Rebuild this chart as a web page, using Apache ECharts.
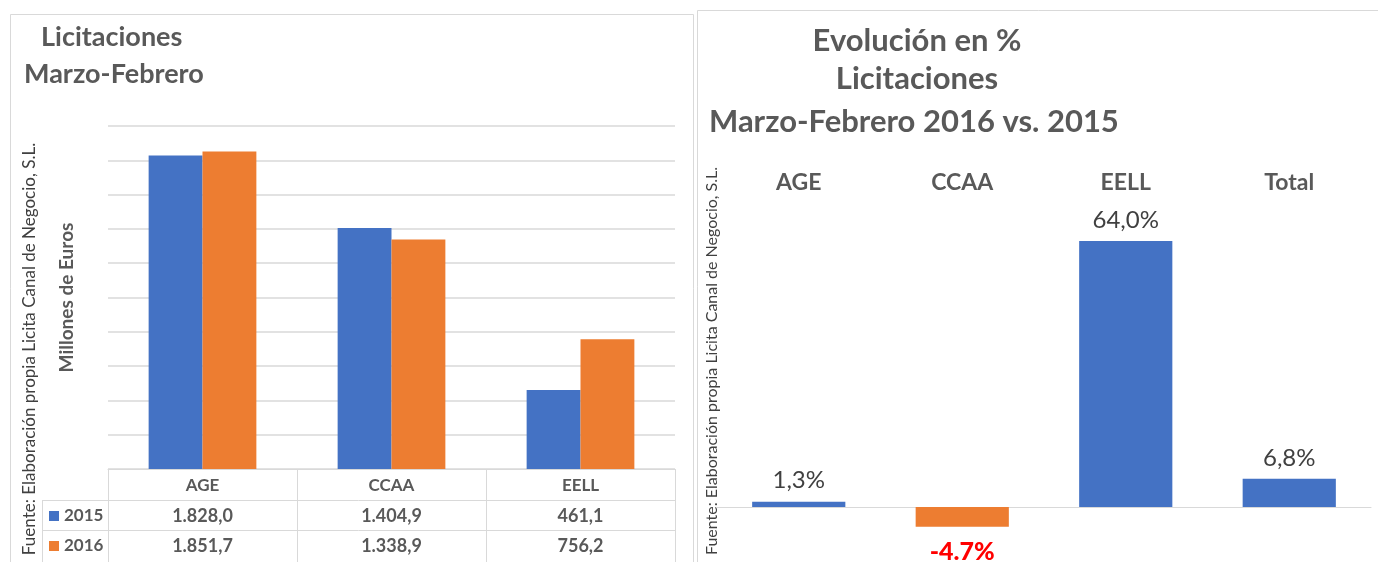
<!DOCTYPE html>
<html>
<head>
<meta charset="utf-8">
<script src="https://cdn.jsdelivr.net/npm/echarts@6/dist/echarts.min.js"></script>
<style>html,body{margin:0;padding:0;background:#fff}#c{width:1378px;height:562px}</style>
</head>
<body>
<div id="c"></div>
<script>
// ---- data ----
const categories = ['AGE', 'CCAA', 'EELL'];
const values2015 = [1828.0, 1404.9, 461.1];
const values2016 = [1851.7, 1338.9, 756.2];
const pctCategories = ['AGE', 'CCAA', 'EELL', 'Total'];
const pctValues = [1.3, -4.7, 64.0, 6.8];
const seriesNames = ['2015', '2016'];

const FONT = 'Lato, "Open Sans", sans-serif';
const GREY = '#595959';
const BLUE = '#4472C4';
const ORANGE = '#ED7D31';
const LINE = '#D9D9D9';

function esNum(v) {
  const parts = v.toFixed(1).split('.');
  const intPart = parts[0].replace(/\B(?=(\d{3})+(?!\d))/g, '.');
  return intPart + ',' + parts[1];
}

const chart = echarts.init(document.getElementById('c'));
const option = {
  backgroundColor: '#fff',
  animation: false,
  textStyle: { fontFamily: FONT },
  title: [
    { text: 'Licitaciones', left: 41, top: 24, padding: 0, textStyle: { fontFamily: FONT, fontSize: 27, fontWeight: 'bold', color: GREY } },
    { text: 'Marzo-Febrero', left: 24, top: 61, padding: 0, textStyle: { fontFamily: FONT, fontSize: 27, fontWeight: 'bold', color: GREY } },
    { text: 'Evolución en %', left: 917, textAlign: 'center', top: 25, padding: 0, textStyle: { fontFamily: FONT, fontSize: 31, fontWeight: 'bold', color: GREY } },
    { text: 'Licitaciones', left: 917, textAlign: 'center', top: 63, padding: 0, textStyle: { fontFamily: FONT, fontSize: 31, fontWeight: 'bold', color: GREY } },
    { text: 'Marzo-Febrero 2016 vs. 2015', left: 709, top: 106, padding: 0, textStyle: { fontFamily: FONT, fontSize: 31, fontWeight: 'bold', color: GREY } }
  ],
  legend: {
    data: seriesNames,
    orient: 'vertical',
    left: 49, top: 507,
    itemWidth: 10, itemHeight: 10, itemGap: 12,
    icon: 'rect',
    textStyle: { fontFamily: FONT, fontSize: 17, fontWeight: 'bold', color: GREY, lineHeight: 18 },
    padding: 0,
    selectedMode: false
  },
  grid: [
    { left: 108, right: 703, top: 126, bottom: 93 },
    { left: 717, right: 7, top: 241, bottom: 5 }
  ],
  xAxis: [
    {
      type: 'category', gridIndex: 0, data: categories,
      axisLine: { show: true, lineStyle: { color: LINE } },
      axisTick: { show: true, length: 93, lineStyle: { color: LINE } },
      axisLabel: {
        margin: 1, interval: 0,
        formatter: function (v, i) {
          return '{h|' + v + '}\n{n|' + esNum(values2015[i]) + '}\n{n|' + esNum(values2016[i]) + '}';
        },
        rich: {
          h: { fontFamily: FONT, fontSize: 17, fontWeight: 'bold', color: GREY, lineHeight: 30.5, height: 30.5 },
          n: { fontFamily: FONT, fontSize: 18, fontWeight: 'bold', color: GREY, lineHeight: 30.5, height: 30.5 }
        }
      }
    },
    {
      type: 'category', gridIndex: 1, data: pctCategories,
      axisLine: { show: true, onZero: true, lineStyle: { color: LINE } },
      axisTick: { show: false },
      axisLabel: { show: false }
    },
    {
      type: 'category', gridIndex: 1, data: pctCategories, position: 'top',
      axisLine: { show: false, onZero: false },
      axisTick: { show: false },
      axisLabel: { margin: 47, fontFamily: FONT, fontSize: 23, fontWeight: 'bold', color: GREY }
    }
  ],
  yAxis: [
    {
      type: 'value', gridIndex: 0, min: 0, max: 2000, interval: 200,
      axisLabel: { show: false }, axisLine: { show: false }, axisTick: { show: false },
      splitLine: { show: true, lineStyle: { color: LINE, width: 1.5 } },
      name: 'Millones de Euros', nameLocation: 'middle', nameGap: 32, nameRotate: 90,
      nameTextStyle: { fontFamily: FONT, fontSize: 19, fontWeight: 'bold', color: GREY }
    },
    {
      type: 'value', gridIndex: 1, min: -12, max: 64,
      axisLabel: { show: false }, axisLine: { show: false }, axisTick: { show: false },
      splitLine: { show: false }
    }
  ],
  series: [
    {
      name: seriesNames[0], type: 'bar', xAxisIndex: 0, yAxisIndex: 0,
      data: values2015, barGap: '0%', barCategoryGap: '43%',
      itemStyle: { color: BLUE }
    },
    {
      name: seriesNames[1], type: 'bar', xAxisIndex: 0, yAxisIndex: 0,
      data: values2016, barGap: '0%', barCategoryGap: '43%',
      itemStyle: { color: ORANGE }
    },
    {
      name: 'Evolución', type: 'bar', xAxisIndex: 1, yAxisIndex: 1,
      barCategoryGap: '43%',
      data: pctValues.map(function (v) {
        if (v < 0) {
          return {
            value: v, itemStyle: { color: ORANGE },
            label: { position: 'bottom', distance: 13, color: '#FF0000', fontWeight: 900, fontSize: 25 }
          };
        }
        return { value: v, itemStyle: { color: BLUE } };
      }),
      label: {
        show: true, position: 'top', distance: 9,
        fontFamily: FONT, fontSize: 24, color: '#404040',
        formatter: function (p) {
          return p.value < 0 ? p.value.toFixed(1) + '%' : p.value.toFixed(1).replace('.', ',') + '%';
        }
      }
    }
  ],
  graphic: [
    { type: 'rect', shape: { x: 10.5, y: 14.5, width: 683, height: 560 }, style: { fill: 'none', stroke: LINE, lineWidth: 1 }, silent: true },
    { type: 'rect', shape: { x: 697.5, y: 10.5, width: 690, height: 560 }, style: { fill: 'none', stroke: LINE, lineWidth: 1 }, silent: true },
    { type: 'line', shape: { x1: 42, y1: 500.5, x2: 675, y2: 500.5 }, style: { stroke: LINE, lineWidth: 1 }, silent: true },
    { type: 'line', shape: { x1: 42, y1: 530.5, x2: 675, y2: 530.5 }, style: { stroke: LINE, lineWidth: 1 }, silent: true },
    { type: 'line', shape: { x1: 42.5, y1: 500, x2: 42.5, y2: 562 }, style: { stroke: LINE, lineWidth: 1 }, silent: true },
    { type: 'text', x: 30, y: 349, rotation: Math.PI / 2, style: { text: 'Fuente: Elaboración propia Licita Canal de Negocio, S.L.', fontFamily: FONT, fontSize: 17, fill: '#404040', align: 'center', verticalAlign: 'middle' }, silent: true },
    { type: 'text', x: 712, y: 361, rotation: Math.PI / 2, style: { text: 'Fuente: Elaboración propia Licita Canal de Negocio, S.L.', fontFamily: FONT, fontSize: 16, fill: '#404040', align: 'center', verticalAlign: 'middle' }, silent: true }
  ]
};
chart.setOption(option);
</script>
</body>
</html>
